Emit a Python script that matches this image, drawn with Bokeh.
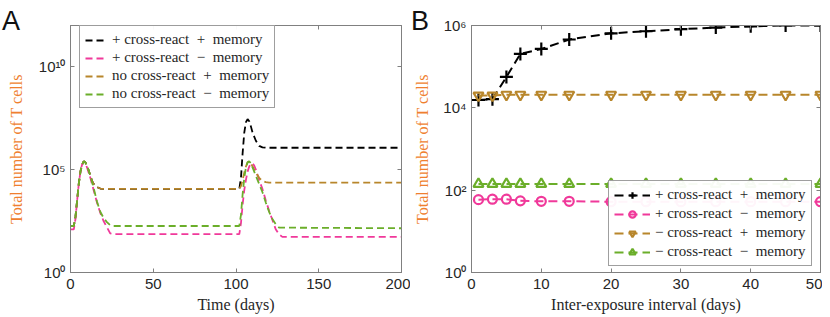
from bokeh.plotting import figure
from bokeh.layouts import row
from bokeh.models import (FixedTicker, LinearAxis, LogAxis, Div, CustomJSTickFormatter, Range1d)
from bokeh.embed import file_html
from bokeh.resources import INLINE

# ---------------- Panel A data (log10 of total T cells) ----------------
t_black = [0, 2, 3, 4, 5, 6, 7, 8, 9, 10, 11, 12, 13, 14, 16, 18, 20,
           102, 103, 104, 105, 106, 107, 108, 109, 110, 112, 114, 116, 118, 200]
e_black = [2.26, 2.26, 2.7, 3.5, 4.3, 4.9, 5.25, 5.4, 5.35, 5.2, 4.95, 4.7, 4.45, 4.3, 4.15, 4.08, 4.06,
           4.06, 4.6, 5.8, 6.8, 7.3, 7.45, 7.35, 7.1, 6.8, 6.4, 6.15, 6.08, 6.06, 6.06]

t_pink = [0, 2, 3, 4, 5, 6, 7, 8, 9, 10, 11, 12, 14, 16, 18, 20, 22, 24, 26,
          102, 103, 104, 105, 106, 107, 108, 109, 110, 111, 112, 114, 116, 118, 120, 122, 124, 126, 128, 200]
e_pink = [2.1, 2.1, 2.6, 3.5, 4.3, 4.9, 5.25, 5.38, 5.3, 5.1, 4.85, 4.6, 4.0, 3.4, 2.9, 2.5, 2.2, 1.9, 1.86,
          1.86, 2.4, 3.3, 4.0, 4.5, 4.9, 5.15, 5.28, 5.3, 5.2, 5.0, 4.5, 4.05, 3.5, 3.0, 2.55, 2.1, 1.85, 1.73, 1.73]

t_gold = [0, 2, 3, 4, 5, 6, 7, 8, 9, 10, 11, 12, 13, 14, 16, 18, 20,
          102, 103, 104, 105, 106, 107, 108, 109, 110, 112, 114, 116, 118, 120, 200]
e_gold = [2.26, 2.26, 2.7, 3.5, 4.3, 4.9, 5.25, 5.4, 5.35, 5.2, 4.95, 4.7, 4.45, 4.3, 4.15, 4.08, 4.06,
          4.06, 4.2, 4.5, 4.85, 5.15, 5.35, 5.4, 5.3, 5.15, 4.85, 4.6, 4.45, 4.39, 4.37, 4.37]

t_green = [0, 2, 3, 4, 5, 6, 7, 8, 9, 10, 11, 12, 14, 16, 18, 20, 22, 24, 26,
           102, 103, 104, 105, 106, 107, 108, 109, 110, 112, 114, 116, 118, 120, 122, 124, 126, 200]
e_green = [2.26, 2.26, 2.7, 3.5, 4.3, 4.9, 5.25, 5.4, 5.35, 5.2, 4.95, 4.7, 4.1, 3.45, 2.95, 2.65, 2.45, 2.3, 2.26,
           2.26, 2.8, 3.8, 4.6, 5.1, 5.35, 5.4, 5.3, 5.1, 4.7, 4.3, 3.9, 3.4, 2.95, 2.6, 2.35, 2.18, 2.15]

SP = "\u2002"
labels_A = [f"+ cross-react{SP}+{SP}memory", f"+ cross-react{SP}\u2212{SP}memory",
            f"no cross-react{SP}+{SP}memory", f"no cross-react{SP}\u2212{SP}memory"]

# ---------------- Panel B data ----------------
interval = [1, 3, 5, 7, 10, 14, 20, 25, 30, 35, 40, 45, 50]
eB_black = [4.19, 4.21, 4.75, 5.31, 5.43, 5.66, 5.81, 5.86, 5.91, 5.95, 5.98, 6.0, 6.0]
eB_pink = [1.77, 1.78, 1.78, 1.74, 1.73, 1.73, 1.72, 1.72, 1.72, 1.72, 1.72, 1.72, 1.72]
eB_gold = [4.3, 4.3, 4.32, 4.32, 4.32, 4.32, 4.32, 4.32, 4.32, 4.32, 4.32, 4.32, 4.32]
eB_green = [2.15, 2.15, 2.15, 2.15, 2.15, 2.15, 2.15, 2.15, 2.15, 2.15, 2.15, 2.15, 2.15]

labels_B = [f"+ cross-react{SP}+{SP}memory", f"+ cross-react{SP}\u2212{SP}memory",
            f"\u2212 cross-react{SP}+{SP}memory", f"\u2212 cross-react{SP}\u2212{SP}memory"]

xticks_A = [0, 50, 100, 150, 200]
yticks_A = [1, 1e5, 1e10]
xticks_B = [0, 10, 20, 30, 40, 50]
yticks_B = [1, 1e2, 1e4, 1e6]

C_BLACK = "#000000"
C_PINK = "#F0399A"
C_GOLD = "#B8862B"
C_GREEN = "#6BAE2A"
C_ORANGE = "#EF7F2F"
C_AXIS = "#808080"
C_TEXT = "#262626"
SERIF = "Liberation Serif"
SANS = "Liberation Sans"

sup_fmt = CustomJSTickFormatter(code="""
const e = Math.round(Math.log10(tick));
const s = {'0':'\u2070','1':'\u00b9','2':'\u00b2','3':'\u00b3','4':'\u2074','5':'\u2075','6':'\u2076','7':'\u2077','8':'\u2078','9':'\u2079','-':'\u207b'};
return '10' + String(e).split('').map(c => s[c]).join('');
""")


def style_axis(ax, ticks, labels=True):
    ax.ticker = FixedTicker(ticks=ticks)
    ax.axis_line_color = C_AXIS
    ax.major_tick_line_color = C_AXIS
    ax.major_tick_in = 4
    ax.major_tick_out = 0
    ax.minor_tick_line_color = None
    ax.major_label_text_font = SANS
    if labels:
        ax.major_label_text_color = C_TEXT
        ax.major_label_text_font_size = "15px"
        ax.major_label_standoff = 6
    else:
        ax.major_label_text_color = None
        ax.major_label_text_font_size = "1px"
        ax.major_label_standoff = 0


def make_fig(width, xr, yr, bl, br, bt, bb, xticks, yticks, xlabel, ystand):
    p = figure(width=width, height=315, x_range=Range1d(*xr), y_range=Range1d(*yr),
               y_axis_type="log", output_backend="svg", toolbar_location=None,
               min_border_left=bl, min_border_right=br, min_border_top=bt, min_border_bottom=bb)
    p.grid.visible = False
    p.outline_line_color = C_AXIS
    xa = p.xaxis[0]
    ya = p.yaxis[0]
    style_axis(xa, xticks)
    style_axis(ya, yticks)
    ya.formatter = sup_fmt
    ya.major_label_standoff = 5
    xa.axis_label = xlabel
    ya.axis_label = "Total number of T cells"
    for ax, col, st in ((xa, C_TEXT, 4), (ya, C_ORANGE, ystand)):
        ax.axis_label_text_font = SERIF
        ax.axis_label_text_font_style = "normal"
        ax.axis_label_text_font_size = "16px"
        ax.axis_label_text_color = col
        ax.axis_label_standoff = st
    top = LinearAxis()
    style_axis(top, xticks, labels=False)
    right = LogAxis()
    style_axis(right, yticks, labels=False)
    p.add_layout(top, "above")
    p.add_layout(right, "right")
    return p


def style_legend(lg, loc, gw, standoff, spacing):
    lg.location = loc
    lg.label_text_font = SERIF
    lg.label_text_font_size = "15px"
    lg.label_text_color = C_TEXT
    lg.glyph_width = gw
    lg.glyph_height = 16
    lg.label_height = 16
    lg.label_standoff = standoff
    lg.spacing = spacing
    lg.padding = 5
    lg.margin = 0
    lg.border_line_color = "#404040"
    lg.border_line_width = 1


# ---------------- Panel A ----------------
pA = make_fig(410, (0, 200), (1, 1e12), 70, 9, 25, 42, xticks_A, yticks_A, "Time (days)", 11)
seriesA = [(t_black, e_black, C_BLACK), (t_pink, e_pink, C_PINK),
           (t_gold, e_gold, C_GOLD), (t_green, e_green, C_GREEN)]
for (tt, ee, col), lab in zip(seriesA, labels_A):
    pA.line(tt, [10 ** e for e in ee], line_color=col, line_width=1.8,
            line_dash="7 4", legend_label=lab)
style_legend(pA.legend[0], (9, 164), 20, 7, 1)

# ---------------- Panel B ----------------
pB = make_fig(412, (0, 50), (1, 1e6), 61, 2, 23, 42, xticks_B, yticks_B,
              "Inter-exposure interval (days)", 9)
seriesB = [(eB_black, C_BLACK, "cross", 13), (eB_pink, C_PINK, "circle", 9),
           (eB_gold, C_GOLD, "inverted_triangle", 10), (eB_green, C_GREEN, "triangle", 10)]
for (ee, col, mk, sz), lab in zip(seriesB, labels_B):
    ys = [10 ** e for e in ee]
    pB.line(interval, ys, line_color=col, line_width=2, line_dash="9 5", legend_label=lab)
    pB.scatter(interval, ys, marker=mk, size=sz, line_color=col, line_width=2.2,
               fill_alpha=0, legend_label=lab)
style_legend(pB.legend[0], (137, 6), 36, 5, 2)

letter_css = {"position": "absolute", "top": "0px", "font-family": "Liberation Sans",
              "font-size": "27px", "color": "#111111", "z-index": "10", "line-height": "32px"}
divA = Div(text="A", styles=dict(letter_css, left="-3px"))
divB = Div(text="B", styles=dict(letter_css, left="406px"))

layout = row(pA, pB, divA, divB)
open("out.html", "w").write(file_html(layout, INLINE))
